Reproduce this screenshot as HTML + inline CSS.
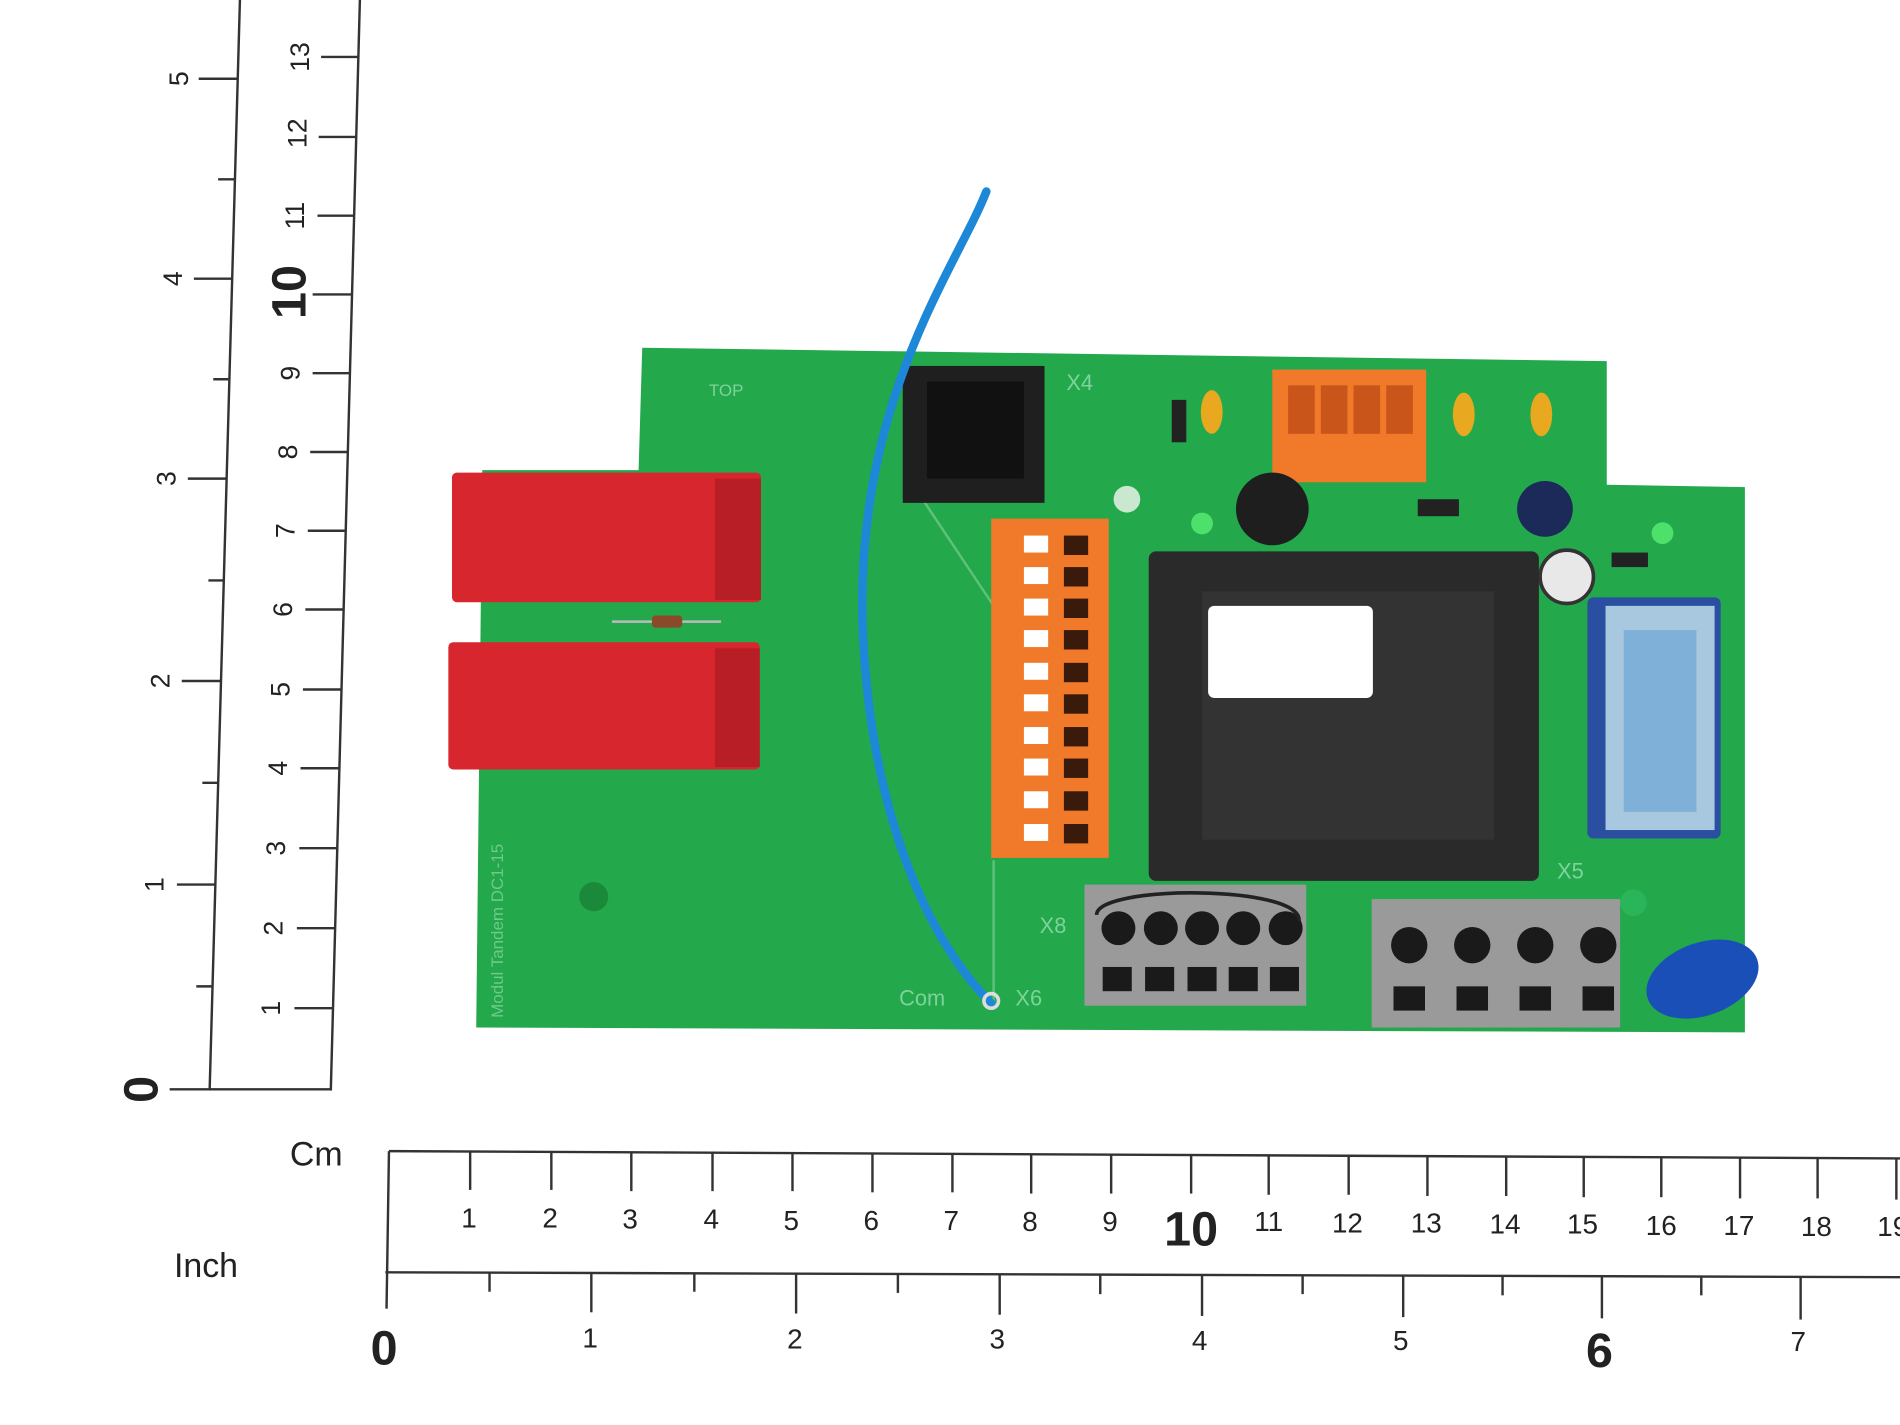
<!DOCTYPE html>
<html><head><meta charset="utf-8"><style>
html,body{margin:0;padding:0;background:#fff;}
svg{display:block;}
text{font-family:"Liberation Sans",sans-serif;fill:#222;}
</style></head><body>
<svg width="1900" height="1425" viewBox="0 0 1568 1176" preserveAspectRatio="none" xmlns="http://www.w3.org/2000/svg">
<rect width="1568" height="1176" fill="#fff"/>
<!-- vertical ruler -->
<g stroke="#333" stroke-width="2" fill="none">
<line x1="198" y1="0" x2="173" y2="900"/>
<line x1="297" y1="0" x2="273" y2="900"/>
<line x1="140" y1="899" x2="274" y2="899"/>
<!-- inch ticks -->
<line x1="164" y1="65" x2="196" y2="65"/>
<line x1="180" y1="148" x2="194" y2="148"/>
<line x1="160" y1="230" x2="192" y2="230"/>
<line x1="176" y1="313" x2="190" y2="313"/>
<line x1="155" y1="395" x2="187" y2="395"/>
<line x1="172" y1="479" x2="185" y2="479"/>
<line x1="150" y1="562" x2="182" y2="562"/>
<line x1="167" y1="646" x2="180" y2="646"/>
<line x1="146" y1="730" x2="178" y2="730"/>
<line x1="162" y1="814" x2="176" y2="814"/>
<!-- cm ticks -->
<line x1="265" y1="47" x2="296" y2="47"/>
<line x1="263" y1="113" x2="294" y2="113"/>
<line x1="262" y1="178" x2="292" y2="178"/>
<line x1="258" y1="243" x2="290" y2="243"/>
<line x1="258" y1="308" x2="289" y2="308"/>
<line x1="256" y1="373" x2="287" y2="373"/>
<line x1="254" y1="438" x2="285" y2="438"/>
<line x1="252" y1="503" x2="283" y2="503"/>
<line x1="250" y1="569" x2="281" y2="569"/>
<line x1="248" y1="634" x2="280" y2="634"/>
<line x1="247" y1="700" x2="278" y2="700"/>
<line x1="245" y1="766" x2="276" y2="766"/>
<line x1="243" y1="832" x2="275" y2="832"/>
</g>
<g font-size="22">
<text transform="translate(155,65) rotate(-90)" text-anchor="middle">5</text>
<text transform="translate(150,230) rotate(-90)" text-anchor="middle">4</text>
<text transform="translate(145,395) rotate(-90)" text-anchor="middle">3</text>
<text transform="translate(140,562) rotate(-90)" text-anchor="middle">2</text>
<text transform="translate(135,730) rotate(-90)" text-anchor="middle">1</text>
<text transform="translate(130,899) rotate(-90)" text-anchor="middle" font-size="40" font-weight="bold">0</text>
<text transform="translate(255,47) rotate(-90)" text-anchor="middle">13</text>
<text transform="translate(253,110) rotate(-90)" text-anchor="middle">12</text>
<text transform="translate(251,178) rotate(-90)" text-anchor="middle">11</text>
<text transform="translate(252,241) rotate(-90)" text-anchor="middle" font-size="40" font-weight="bold">10</text>
<text transform="translate(247,308) rotate(-90)" text-anchor="middle">9</text>
<text transform="translate(245,373) rotate(-90)" text-anchor="middle">8</text>
<text transform="translate(243,438) rotate(-90)" text-anchor="middle">7</text>
<text transform="translate(241,503) rotate(-90)" text-anchor="middle">6</text>
<text transform="translate(239,569) rotate(-90)" text-anchor="middle">5</text>
<text transform="translate(237,634) rotate(-90)" text-anchor="middle">4</text>
<text transform="translate(235,700) rotate(-90)" text-anchor="middle">3</text>
<text transform="translate(233,766) rotate(-90)" text-anchor="middle">2</text>
<text transform="translate(231,832) rotate(-90)" text-anchor="middle">1</text>
</g>
<!-- horizontal ruler -->
<g stroke="#333" stroke-width="2" fill="none">
<line x1="321" y1="950" x2="1568" y2="956"/>
<line x1="318" y1="1050" x2="1568" y2="1054"/>
<line x1="321" y1="950" x2="319" y2="1080"/>
<line x1="388" y1="950" x2="388" y2="982"/>
<line x1="455" y1="950" x2="455" y2="982"/>
<line x1="521" y1="951" x2="521" y2="983"/>
<line x1="588" y1="951" x2="588" y2="983"/>
<line x1="654" y1="951" x2="654" y2="983"/>
<line x1="720" y1="952" x2="720" y2="984"/>
<line x1="786" y1="952" x2="786" y2="984"/>
<line x1="851" y1="952" x2="851" y2="985"/>
<line x1="917" y1="953" x2="917" y2="985"/>
<line x1="983" y1="953" x2="983" y2="985"/>
<line x1="1047" y1="953" x2="1047" y2="986"/>
<line x1="1113" y1="954" x2="1113" y2="986"/>
<line x1="1178" y1="954" x2="1178" y2="987"/>
<line x1="1243" y1="955" x2="1243" y2="987"/>
<line x1="1307" y1="955" x2="1307" y2="988"/>
<line x1="1371" y1="955" x2="1371" y2="988"/>
<line x1="1436" y1="956" x2="1436" y2="989"/>
<line x1="1500" y1="956" x2="1500" y2="989"/>
<line x1="1565" y1="956" x2="1565" y2="990"/>
<line x1="404" y1="1050" x2="404" y2="1066"/>
<line x1="488" y1="1050" x2="488" y2="1083"/>
<line x1="573" y1="1051" x2="573" y2="1066"/>
<line x1="657" y1="1051" x2="657" y2="1084"/>
<line x1="741" y1="1051" x2="741" y2="1067"/>
<line x1="825" y1="1052" x2="825" y2="1085"/>
<line x1="908" y1="1052" x2="908" y2="1068"/>
<line x1="992" y1="1052" x2="992" y2="1086"/>
<line x1="1075" y1="1052" x2="1075" y2="1068"/>
<line x1="1158" y1="1053" x2="1158" y2="1087"/>
<line x1="1240" y1="1053" x2="1240" y2="1069"/>
<line x1="1322" y1="1053" x2="1322" y2="1088"/>
<line x1="1404" y1="1053" x2="1404" y2="1069"/>
<line x1="1486" y1="1054" x2="1486" y2="1089"/>
</g>
<g font-size="23" text-anchor="middle">
<text x="387" y="1013">1</text><text x="454" y="1013">2</text><text x="520" y="1014">3</text>
<text x="587" y="1014">4</text><text x="653" y="1015">5</text><text x="719" y="1015">6</text>
<text x="785" y="1015">7</text><text x="850" y="1016">8</text><text x="916" y="1016">9</text>
<text x="983" y="1028" font-size="40" font-weight="bold">10</text>
<text x="1047" y="1016">11</text><text x="1112" y="1017">12</text><text x="1177" y="1017">13</text>
<text x="1242" y="1018">14</text><text x="1306" y="1018">15</text><text x="1371" y="1019">16</text>
<text x="1435" y="1019">17</text><text x="1499" y="1020">18</text><text x="1562" y="1020">19</text>
<text x="317" y="1126" font-size="40" font-weight="bold">0</text>
<text x="487" y="1112">1</text><text x="656" y="1113">2</text><text x="823" y="1113">3</text>
<text x="990" y="1114">4</text><text x="1156" y="1114">5</text>
<text x="1320" y="1128" font-size="40" font-weight="bold">6</text>
<text x="1484" y="1115">7</text>
<text x="261" y="962" font-size="28">Cm</text>
<text x="170" y="1054" font-size="28">Inch</text>
</g>
<!-- PCB -->
<polygon points="530,287 1326,298 1326,400 1440,402 1440,852 393,848 398,388 527,388" fill="#23a84c"/>
<circle cx="490" cy="740" r="12" fill="#1a8a3a"/>
<circle cx="930" cy="412" r="11" fill="#c9e8cf"/>
<circle cx="1348" cy="745" r="11" fill="#2bb55a"/>
<text x="585" y="327" font-size="14" fill="#7fd39a" style="fill:#7fd39a">TOP</text>
<text x="880" y="322" font-size="18" style="fill:#7fd39a">X4</text>
<text x="858" y="770" font-size="18" style="fill:#7fd39a">X8</text>
<text x="1285" y="725" font-size="18" style="fill:#7fd39a">X5</text>
<text x="742" y="830" font-size="18" style="fill:#7fd39a">Com</text>
<text x="838" y="830" font-size="18" style="fill:#7fd39a">X6</text>
<text transform="translate(415,840) rotate(-90)" font-size="14" style="fill:#6fc98a">Modul Tandem DC1-15</text>
<line x1="820" y1="710" x2="820" y2="830" stroke="#5fc27a" stroke-width="2"/>
<polyline points="760,410 820,500" stroke="#5fc27a" stroke-width="2" fill="none"/>
<!-- red relays -->
<rect x="373" y="390" width="255" height="107" rx="4" fill="#d8262e"/>
<rect x="590" y="395" width="38" height="100" fill="#b81e26"/>
<rect x="370" y="530" width="257" height="105" rx="4" fill="#d8262e"/>
<rect x="590" y="535" width="37" height="98" fill="#b81e26"/>
<line x1="505" y1="513" x2="595" y2="513" stroke="#bbb" stroke-width="2"/>
<rect x="538" y="508" width="25" height="10" rx="3" fill="#8a4a2a"/>
<!-- RJ jack -->
<rect x="745" y="302" width="117" height="113" fill="#1f1f1f"/>
<rect x="765" y="315" width="80" height="80" fill="#111"/>
<!-- X2 orange -->
<rect x="1050" y="305" width="127" height="93" fill="#f07a2a"/>
<g fill="#c9551a"><rect x="1063" y="318" width="22" height="40"/><rect x="1090" y="318" width="22" height="40"/><rect x="1117" y="318" width="22" height="40"/><rect x="1144" y="318" width="22" height="40"/></g>
<!-- vertical orange connector -->
<rect x="818" y="428" width="97" height="280" fill="#f07a2a"/>
<g fill="#fff">
<rect x="845" y="442" width="20" height="14"/><rect x="845" y="468" width="20" height="14"/><rect x="845" y="494" width="20" height="14"/><rect x="845" y="520" width="20" height="14"/><rect x="845" y="547" width="20" height="14"/><rect x="845" y="573" width="20" height="14"/><rect x="845" y="600" width="20" height="14"/><rect x="845" y="626" width="20" height="14"/><rect x="845" y="653" width="20" height="14"/><rect x="845" y="680" width="20" height="14"/>
</g>
<g fill="#3a1a0a">
<rect x="878" y="442" width="20" height="16"/><rect x="878" y="468" width="20" height="16"/><rect x="878" y="494" width="20" height="16"/><rect x="878" y="520" width="20" height="16"/><rect x="878" y="547" width="20" height="16"/><rect x="878" y="573" width="20" height="16"/><rect x="878" y="600" width="20" height="16"/><rect x="878" y="626" width="20" height="16"/><rect x="878" y="653" width="20" height="16"/><rect x="878" y="680" width="20" height="16"/>
</g>
<!-- small parts -->
<circle cx="1050" cy="420" r="30" fill="#1e1e1e"/>
<ellipse cx="1000" cy="340" rx="9" ry="18" fill="#e8a820"/>
<ellipse cx="1208" cy="342" rx="9" ry="18" fill="#e8a820"/>
<ellipse cx="1272" cy="342" rx="9" ry="18" fill="#e8a820"/>
<rect x="967" y="330" width="12" height="35" fill="#222"/>
<circle cx="992" cy="432" r="9" fill="#4de06a"/>
<circle cx="1372" cy="440" r="9" fill="#4de06a"/>
<rect x="1170" y="412" width="34" height="14" fill="#222"/>
<circle cx="1275" cy="420" r="23" fill="#1c2a5a"/>
<circle cx="1293" cy="476" r="22" fill="#e8e8e8" stroke="#333" stroke-width="3"/>
<rect x="1330" y="456" width="30" height="12" fill="#222"/>
<!-- transformer -->
<rect x="948" y="455" width="322" height="272" rx="6" fill="#2a2a2a"/>
<rect x="992" y="488" width="241" height="205" fill="#333"/>
<rect x="997" y="500" width="136" height="76" rx="5" fill="#fff"/>
<!-- blue relay -->
<rect x="1310" y="493" width="110" height="199" rx="5" fill="#2a4fa0"/>
<rect x="1325" y="500" width="90" height="185" fill="#a8c8e0"/>
<rect x="1340" y="520" width="60" height="150" fill="#7fb0d8"/>
<!-- terminals -->
<rect x="895" y="730" width="183" height="100" fill="#9a9a9a"/>
<g fill="#1a1a1a"><circle cx="923" cy="766" r="14"/><circle cx="958" cy="766" r="14"/><circle cx="992" cy="766" r="14"/><circle cx="1026" cy="766" r="14"/><circle cx="1061" cy="766" r="14"/>
<rect x="910" y="798" width="24" height="20"/><rect x="945" y="798" width="24" height="20"/><rect x="980" y="798" width="24" height="20"/><rect x="1014" y="798" width="24" height="20"/><rect x="1048" y="798" width="24" height="20"/></g>
<path d="M905,755 C905,730 1075,730 1072,760" stroke="#222" stroke-width="3" fill="none"/>
<rect x="1132" y="742" width="205" height="106" fill="#9a9a9a"/>
<g fill="#1a1a1a"><circle cx="1163" cy="780" r="15"/><circle cx="1215" cy="780" r="15"/><circle cx="1267" cy="780" r="15"/><circle cx="1319" cy="780" r="15"/>
<rect x="1150" y="814" width="26" height="20"/><rect x="1202" y="814" width="26" height="20"/><rect x="1254" y="814" width="26" height="20"/><rect x="1306" y="814" width="26" height="20"/></g>
<!-- blue cap -->
<ellipse cx="1405" cy="808" rx="48" ry="30" transform="rotate(-20 1405 808)" fill="#1a4fb8"/>
<!-- wire -->
<path d="M814,158 C790,220 705,330 712,520 C718,660 760,770 818,828" stroke="#1e88d8" stroke-width="7" fill="none" stroke-linecap="round"/>
<circle cx="818" cy="826" r="6" fill="none" stroke="#ddd" stroke-width="3"/>
</svg>
</body></html>
